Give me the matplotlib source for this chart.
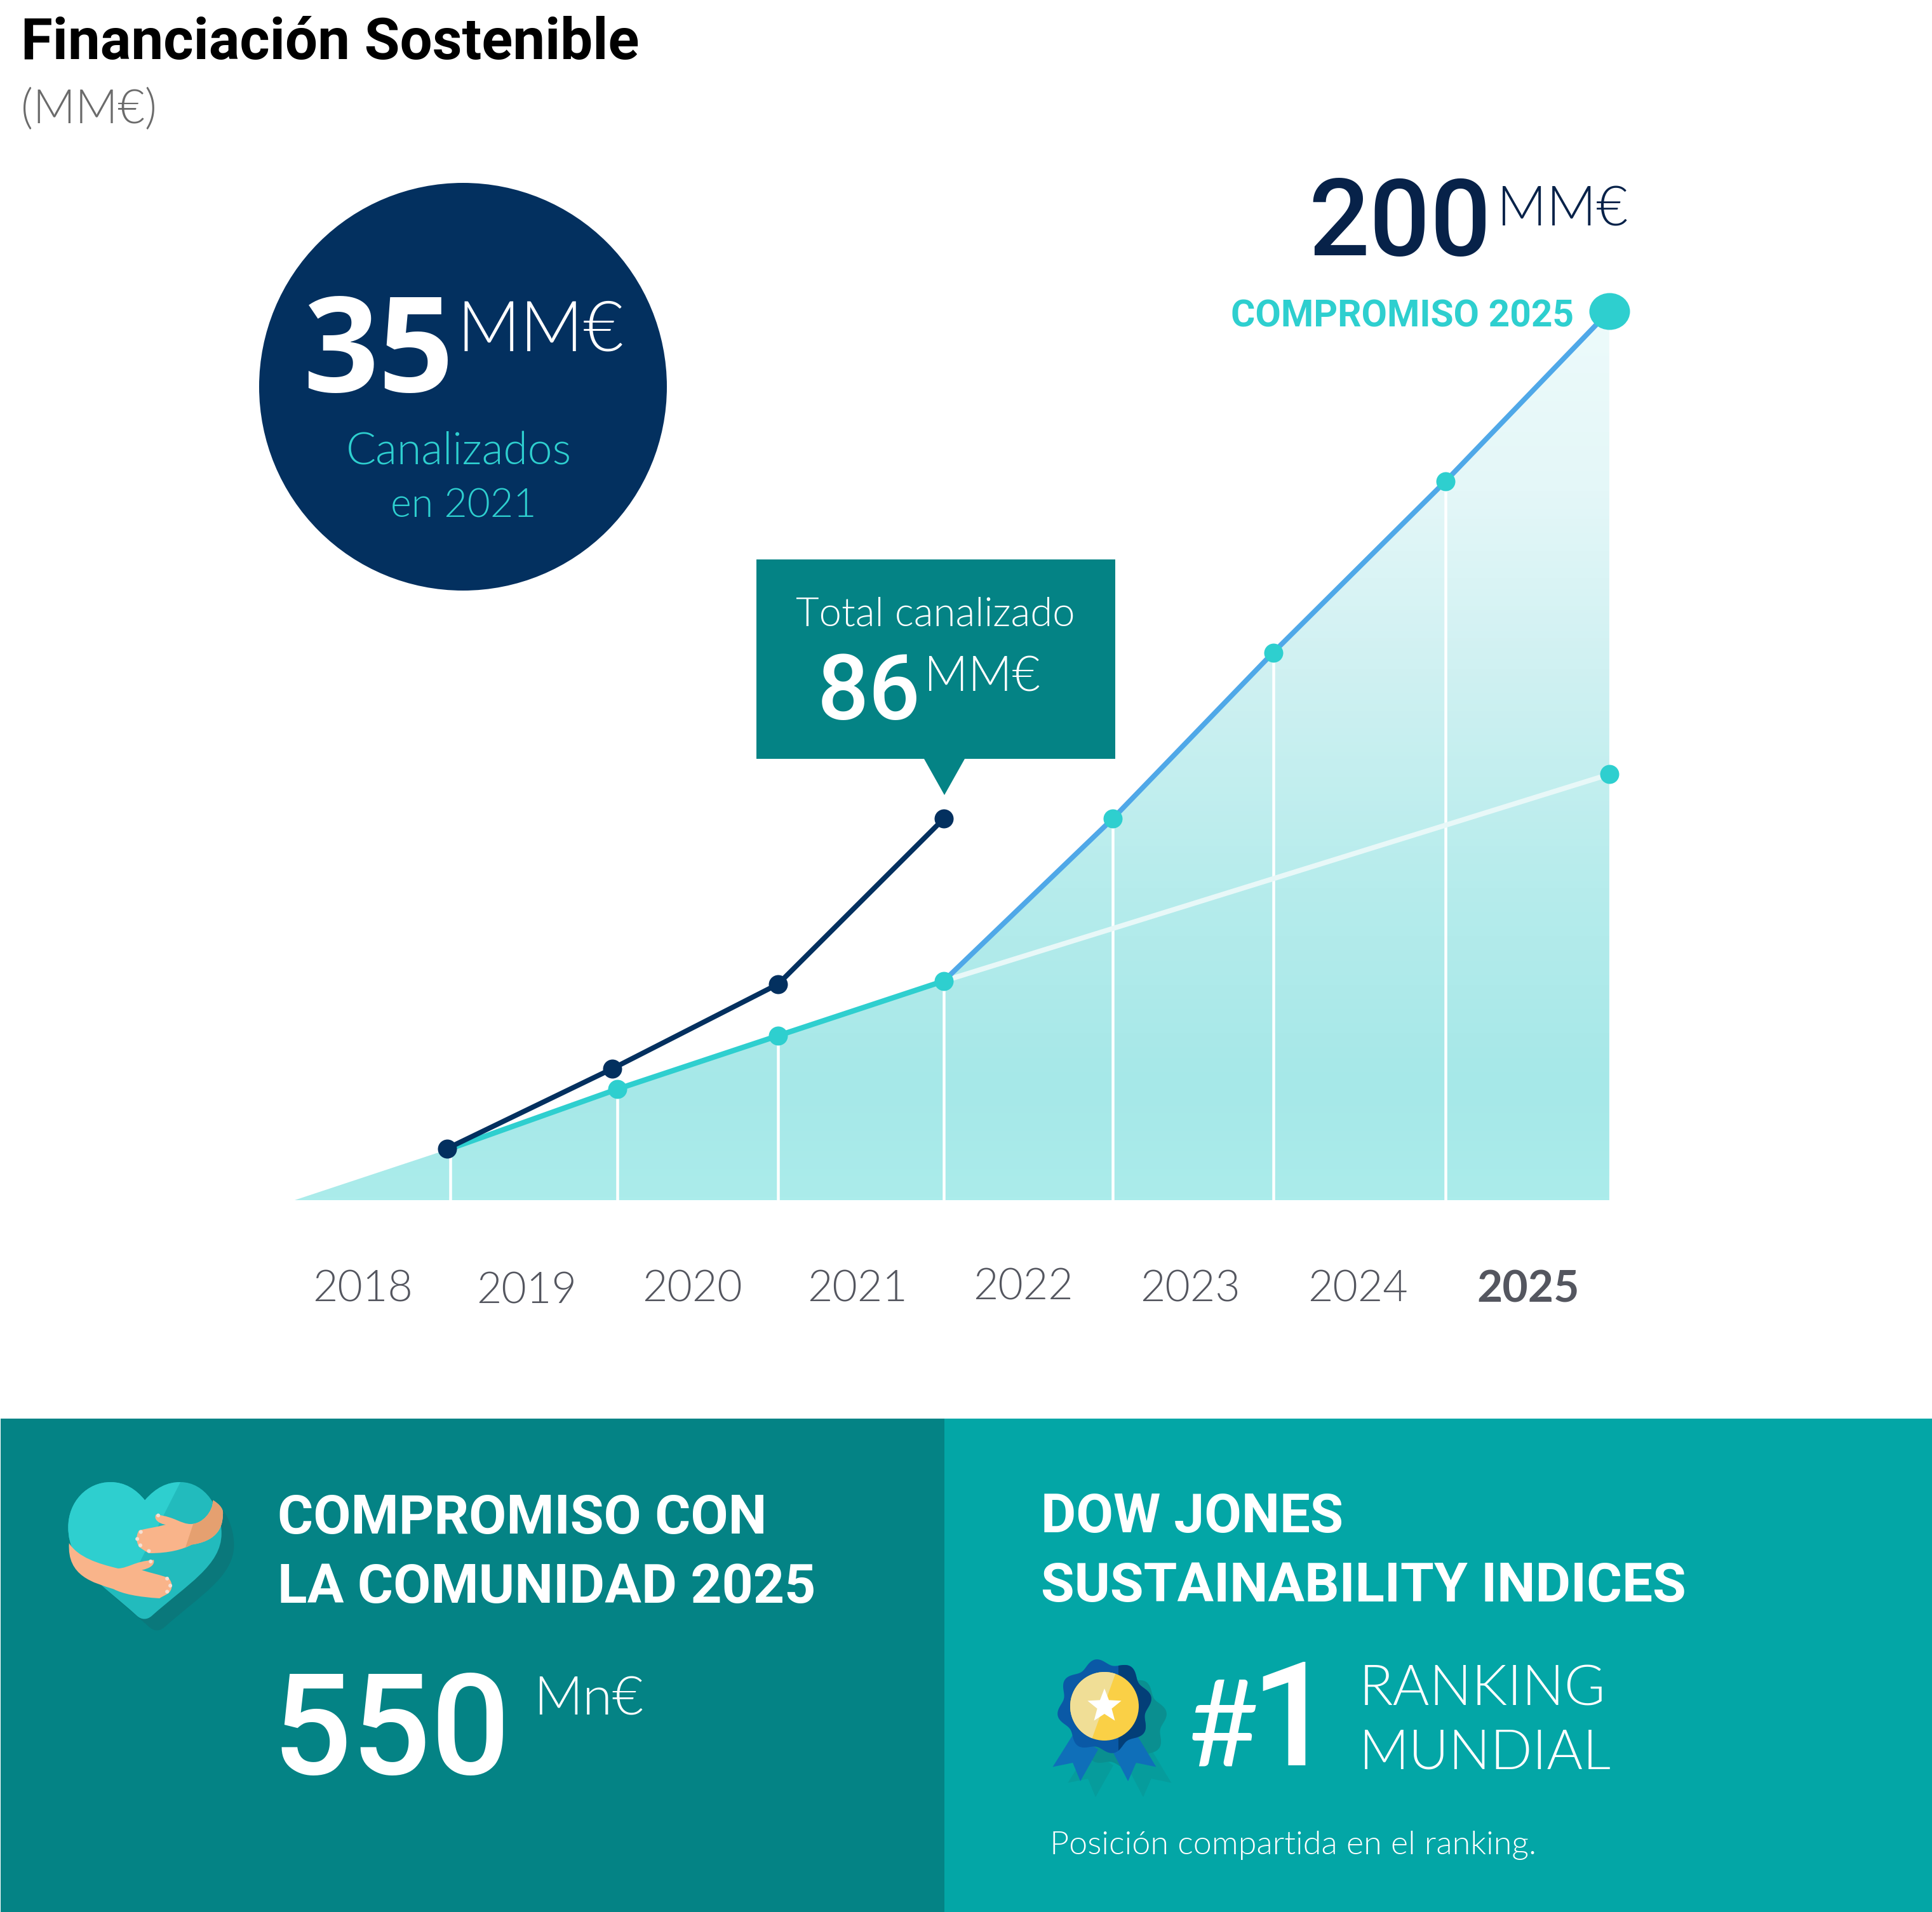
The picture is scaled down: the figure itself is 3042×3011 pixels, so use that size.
import numpy as np
import matplotlib
matplotlib.use("Agg")
import matplotlib.pyplot as plt
from matplotlib.path import Path
from matplotlib.patches import PathPatch, Polygon, Circle, Rectangle
from matplotlib.colors import LinearSegmentedColormap
from matplotlib.markers import MarkerStyle
from matplotlib.transforms import ScaledTranslation, Affine2D

# ---------- data ----------
years = ["2018", "2019", "2020", "2021", "2022", "2023", "2024", "2025"]
tick_x = [2017.97, 2018.96, 2019.96, 2020.96, 2021.96, 2022.97, 2023.98, 2025.01]
tick_dy = [0, -3, 0, 0, 3, 0, 0, 0]
canal_x = [2018.48, 2019.48, 2020.48, 2021.48]
canal_y = [11.6, 29.6, 48.6, 85.8]
commit_x = [2018.50, 2019.51, 2020.48, 2021.48, 2022.50, 2023.47, 2024.51, 2025.50]
commit_y = [11.6, 25.0, 37.0, 49.3, 85.8, 123.2, 161.7, 200.0]
trend_x = [2021.48, 2025.50]
trend_y = [49.3, 95.8]
area_start_x = 2017.56

# ---------- constants ----------
W, H = 3042, 3011
S = 3042 / 1568
NAVY = "#03305F"; TEAL = "#2ECFCF"; BLUE = "#4FA8E8"; DEEP = "#048385"; SEA = "#03A6A6"
LIGHT = "Lato"; HEAVY = "Roboto"; NUM = "Open Sans"

fig = plt.figure(figsize=(W / 100, H / 100), dpi=100, facecolor="white")
bg = fig.add_axes([0, 0, 1, 1], zorder=0)
bg.set_xlim(0, W); bg.set_ylim(H, 0); bg.axis("off")
rend = fig.canvas.get_renderer()

def T(x0, x1, base, s, color, weight=300, family=LIGHT, zorder=10):
    """text fitted between x0..x1 on a baseline, in the 1568-wide coordinates"""
    t = bg.text(x0 * S, base * S, s, color=color, family=family, fontweight=weight,
                ha="left", va="baseline", fontsize=40, zorder=zorder)
    w = t.get_window_extent(rend).width
    t.set_fontsize(40 * (x1 - x0) * S / w)
    return t

# panels and callouts
bg.add_patch(Rectangle((1, 2234), 1486, H - 2234, fc=DEEP, ec="none"))
bg.add_patch(Rectangle((1487, 2234), W - 1487, H - 2234, fc=SEA, ec="none"))
bg.add_patch(Circle((729, 609), 321, fc=NAVY, ec="none"))
bg.add_patch(Polygon([(1191, 881), (1756, 881), (1756, 1195), (1519, 1195), (1487, 1252),
                      (1455, 1195), (1191, 1195)], closed=True, fc=DEEP, ec="none"))

# ---------- chart ----------
PX0, PX1, PY0, PY1 = 440, 2600, 1890, 430
ax = fig.add_axes([PX0 / W, 1 - PY0 / H, (PX1 - PX0) / W, (PY0 - PY1) / H], zorder=1)
ax.patch.set_alpha(0)
for sp in ax.spines.values():
    sp.set_visible(False)
ax.set_yticks([])

cmap = LinearSegmentedColormap.from_list("area", [(0, "#EDFBFB"), (0.2, "#E4F7F8"), (0.4, "#D0F1F2"),
                                                  (0.65, "#B6ECEC"), (0.87, "#A6E8E8"), (1, "#ABECEB")])
poly = Polygon(list(zip([area_start_x] + commit_x + [commit_x[-1]], [0] + commit_y + [0])),
               closed=True, transform=ax.transData, fc="none", ec="none")
ax.add_patch(poly)
im = ax.imshow(np.linspace(0, 1, 256).reshape(-1, 1), cmap=cmap, aspect="auto", origin="upper",
               extent=(area_start_x, commit_x[-1], 0, 200), zorder=1)
im.set_clip_path(poly)
ax.set_xlim(2018.5 + (PX0 - 709) / 260.7, 2018.5 + (PX1 - 709) / 260.7)
ax.set_ylim(0, (PY0 - PY1) / 7.0)

px = 72 / 100
ax.vlines(commit_x[:-1], 0, commit_y[:-1], color="white", lw=4.5 * px, zorder=2)
ax.plot(trend_x, trend_y, color="#E8F8F8", lw=8 * px, zorder=3, solid_capstyle="butt")
ax.plot(commit_x[:4], commit_y[:4], color=TEAL, lw=8.5 * px, zorder=4)
ax.plot(commit_x[3:], commit_y[3:], color=BLUE, lw=8 * px, zorder=4)
ax.plot(canal_x, canal_y, color=NAVY, lw=8 * px, zorder=5)
ax.plot(commit_x[1:-1], commit_y[1:-1], ls="none", marker="o", ms=30 * px, mfc=TEAL, mec="none", zorder=6)
ax.plot(trend_x[1:], trend_y[1:], ls="none", marker="o", ms=30 * px, mfc=TEAL, mec="none", zorder=6)
big = MarkerStyle("o", transform=Affine2D().scale(64 * px, 58 * px))
ax.plot(commit_x[-1:], commit_y[-1:], ls="none", marker=big, ms=1, mfc=TEAL, mec="none", zorder=6, clip_on=False)
ax.plot(canal_x, canal_y, ls="none", marker="o", ms=30 * px, mfc=NAVY, mec="none", zorder=7)

ax.set_xticks(tick_x)
ax.set_xticklabels(years)
ax.tick_params(axis="x", length=0, pad=79)
for lab, dy, yr in zip(ax.get_xticklabels(), tick_dy, years):
    lab.set_family(LIGHT)
    lab.set_color("#54565F")
    lab.set_fontsize(50 if yr == "2025" else 49)
    lab.set_fontweight(700 if yr == "2025" else 300)
    lab.set_transform(lab.get_transform() + ScaledTranslation(0, dy / 100, fig.dpi_scale_trans))

# ---------- texts ----------
T(17, 518, 48, "Financiación Sostenible", "#000000", 700, HEAVY)
T(17, 127, 100, "(MM€)", "#6B6B6B")
T(246, 368, 318, "35", "white", 700, NUM)
T(371, 506, 285, "MM€", "white")
T(281, 464, 377, "Canalizados", TEAL)
T(317, 435, 420, "en 2021", TEAL)
T(1062, 1210, 207, "200", "#072249", 500, HEAVY)
T(1215, 1321, 183, "MM€", "#072249")
T(999, 1277, 265, "COMPROMISO 2025", TEAL, 700, HEAVY)
T(646, 872, 508, "Total canalizado", "white")
T(663, 747, 584, "86", "white", 500, HEAVY)
T(750, 844, 561, "MM€", "white")
T(225, 622, 1245, "COMPROMISO CON", "white", 700, HEAVY)
T(225, 661, 1301, "LA COMUNIDAD 2025", "white", 700, HEAVY)
T(221, 414, 1440, "550", "white", 500, HEAVY)
T(433, 522, 1392, "Mn€", "white")
T(845, 1090, 1244, "DOW JONES", "white", 700, HEAVY)
T(845, 1368, 1300, "SUSTAINABILITY INDICES", "white", 700, HEAVY)
T(965, 1022, 1433, "#", "white", 400)
bg.text(2099, 1433 * S, "1", color="white", family=HEAVY, fontweight=500, fontsize=164,
        ha="right", va="baseline", zorder=10)
T(1103, 1303, 1384, "RANKING", "white")
T(1103, 1307, 1436, "MUNDIAL", "white")
T(852, 1246, 1505, "Posición compartida en el ranking.", "white")

# ---------- heart icon (zoom coordinates of the crop) ----------
def z1(p):
    return (p[0] / 1.425, 2230 + p[1] / 2)

def bez(pts, fc, z=z1, zorder=3, offs=(0, 0)):
    verts = [z((a + offs[0], b + offs[1])) for a, b in pts]
    codes = [Path.MOVETO] + [Path.CURVE4] * (len(pts) - 1)
    p = PathPatch(Path(verts, codes), fc=fc, ec="none", zorder=zorder)
    bg.add_patch(p)
    return p

heart = [(325, 265), (350, 225), (375, 208), (405, 208), (460, 208), (497, 290), (497, 370),
         (497, 470), (420, 530), (340, 630), (330, 642), (318, 642), (308, 630),
         (230, 530), (153, 470), (153, 350), (153, 270), (195, 208), (248, 208),
         (280, 208), (305, 230), (325, 265)]
bez(heart, "#0A787B", offs=(28, 36), zorder=3)
h = bez(heart, "#22BBBD", zorder=4)
lite = bg.add_patch(Polygon([z1(q) for q in [(100, 180), (415, 180), (310, 470), (100, 620)]],
                            closed=True, fc=TEAL, ec="none", zorder=5))
lite.set_clip_path(h)

hand_top = [(478, 265), (478, 300), (455, 340), (428, 340), (405, 340), (395, 318), (350, 310),
            (343, 325), (358, 340), (372, 342), (350, 350), (330, 354), (312, 360),
            (305, 375), (305, 395), (312, 412), (320, 420), (328, 428), (335, 432),
            (380, 432), (410, 420), (430, 405), (480, 395), (500, 360), (500, 310),
            (502, 295), (495, 280), (478, 265)]
ht = bez(hand_top, "#F9B48A", zorder=6)
dk = bg.add_patch(Polygon([z1(q) for q in [(455, 250), (520, 250), (520, 420), (415, 420)]],
                          closed=True, fc="#E5A070", ec="none", zorder=7))
dk.set_clip_path(ht)
hand_bot = [(155, 400), (175, 445), (220, 465), (265, 480), (290, 478), (300, 458), (345, 453),
            (348, 470), (335, 480), (318, 485), (340, 495), (360, 500), (378, 510),
            (388, 525), (388, 545), (378, 558), (370, 565), (362, 570), (358, 574),
            (310, 570), (275, 560), (255, 545), (210, 525), (150, 505), (155, 400)]
bez(hand_bot, "#F9B48A", zorder=6)
nails = [(316, 365), (308, 387), (315, 407), (334, 425), (355, 313), (375, 512), (382, 534), (375, 553), (338, 458)]
for n in nails:
    bg.add_patch(Circle(z1(n), 3, fc="#F4E0D4", ec="none", zorder=8))

# ---------- medal icon ----------
def z2(p):
    return (1480 + p[0] / 1.425, 2230 + p[1] / 2)

def medal(cx, cy, dx, dy, shadow):
    zo = 3 if shadow else 4
    c1 = "#069C9C" if shadow else "#0F6FB9"
    for pts in ([(300, 1000), (253, 1105), (298, 1092), (315, 1150), (355, 1050)],
                [(440, 1000), (485, 1105), (440, 1092), (422, 1150), (385, 1050)]):
        bg.add_patch(Polygon([z2((a + dx, b + dy)) for a, b in pts], closed=True, fc=c1, ec="none", zorder=zo))
    th = np.linspace(0, 2 * np.pi, 361)
    r = 70 + 5 * np.cos(8 * th + np.pi / 2)
    xy = np.c_[cx + r * np.cos(th), cy + r * np.sin(th)]
    return bg.add_patch(Polygon(xy, closed=True, fc="#0A8F90" if shadow else "#0A59A6", ec="none", zorder=zo))

medal(1739 + 24, 2687 + 24, 34, 50, True)
ros = medal(1739, 2687, 0, 0, False)
d = bg.add_patch(Rectangle((1739 + 22, 2600), 80, 180, fc="#033F78", ec="none", zorder=5))
d.set_clip_path(ros)
gold = bg.add_patch(Circle((1739, 2687), 54, fc="#FAD046", ec="none", zorder=6))
pale = bg.add_patch(Polygon([(1670, 2620), (1762, 2620), (1715, 2750), (1670, 2750)], closed=True,
                            fc="#F0DE96", ec="none", zorder=7))
pale.set_clip_path(gold)
ang = np.deg2rad(-90 + 36 * np.arange(10))
rad = np.where(np.arange(10) % 2 == 0, 28, 12)
bg.add_patch(Polygon(np.c_[1739 + rad * np.cos(ang), 2687 + rad * np.sin(ang)], closed=True,
                     fc="white", ec="none", zorder=8))

fig.savefig("out.png", dpi=100, facecolor="white")
